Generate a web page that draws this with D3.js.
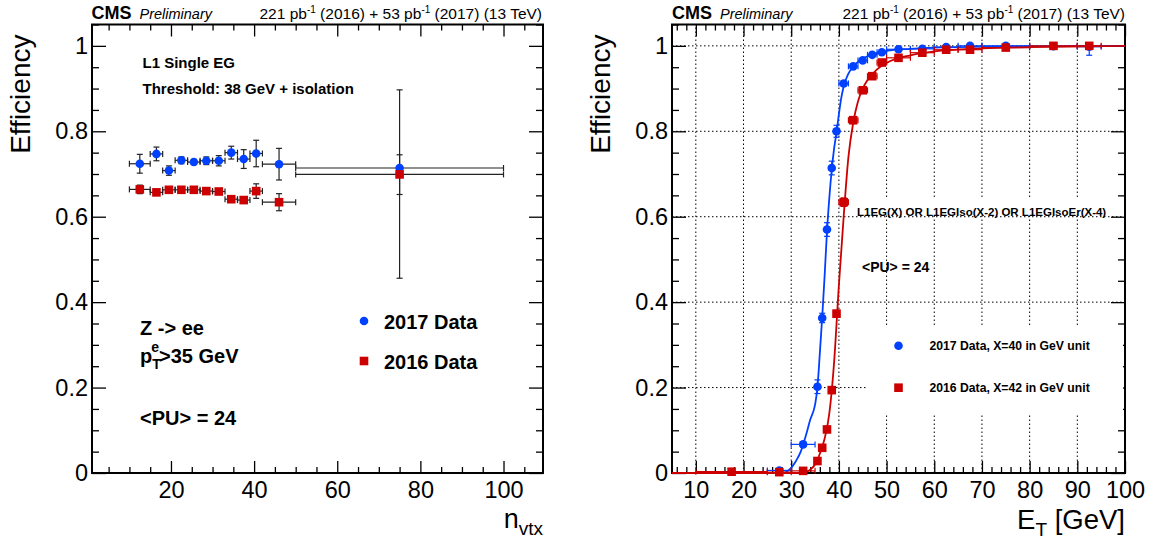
<!DOCTYPE html>
<html><head><meta charset="utf-8">
<script src="https://cdn.jsdelivr.net/npm/d3@7"></script>
<style>body{margin:0;background:#fff}svg{display:block}text{font-family:"Liberation Sans",Arial,Helvetica,sans-serif;fill:#000}</style>
</head><body><svg id="c" width="1157" height="540"></svg>
<script>
// ---------- Left panel data: efficiency vs n_vtx ----------
const nvtxCenter    = [12.5,16.5,19.5,22.5,25.5,28.5,31.5,34.5,37.5,40.5,46,75];
const nvtxHalfWidth = [2.5,1.5,1.5,1.5,1.5,1.5,1.5,1.5,1.5,1.5,4,25];
const eff2017Nvtx   = [0.724,0.747,0.708,0.732,0.728,0.731,0.731,0.750,0.735,0.748,0.723,0.714];
const err2017NvtxLo = [0.022,0.016,0.011,0.008,0.006,0.009,0.012,0.015,0.022,0.031,0.037,0.258];
const err2017NvtxHi = [0.022,0.016,0.011,0.008,0.006,0.009,0.012,0.015,0.022,0.031,0.037,0.183];
const eff2016Nvtx   = [0.664,0.657,0.663,0.663,0.663,0.660,0.659,0.641,0.639,0.660,0.634,0.699];
const err2016NvtxLo = [0.010,0.006,0.005,0.005,0.005,0.005,0.006,0.007,0.008,0.017,0.020,0.047];
const err2016NvtxHi = [0.010,0.006,0.005,0.005,0.005,0.005,0.006,0.007,0.008,0.017,0.020,0.046];

// ---------- Right panel data: efficiency vs E_T ----------
const et2017        = [27.5,32.5,35.5,36.5,37.5,38.5,39.5,41,43,45,47,49,52.5,57.5,62.5,67.5,75,85,92.5];
const etHalf2017    = [2.5,2.5,0.5,0.5,0.5,0.5,0.5,1,1,1,1,1,2.5,2.5,2.5,2.5,5,5,2.5];
const eff2017Et     = [0.006,0.067,0.202,0.363,0.570,0.714,0.800,0.912,0.952,0.966,0.979,0.985,0.992,0.993,0.997,1.0,1.0,0.999,0.998];
const err2017EtLo   = [0.004,0.006,0.016,0.011,0.016,0.016,0.014,0.006,0.005,0.004,0.004,0.004,0.003,0.003,0.003,0.003,0.003,0.004,0.020];
const err2017EtHi   = [0.004,0.006,0.016,0.011,0.016,0.016,0.014,0.006,0.005,0.004,0.004,0.004,0.003,0.003,0.002,0.0,0.0,0.001,0.002];
const et2016        = [17.5,27.5,32.5,35.5,36.5,37.5,38.5,39.5,41,43,45,47,49,52.5,57.5,62.5,67.5,75,85,92.5];
const etHalf2016    = [7.5,2.5,2.5,0.5,0.5,0.5,0.5,0.5,1,1,1,1,1,2.5,2.5,2.5,2.5,5,5,2.5];
const eff2016Et     = [0.003,0.002,0.005,0.028,0.059,0.102,0.194,0.373,0.634,0.826,0.896,0.929,0.961,0.972,0.984,0.991,0.991,0.996,1.0,1.0];
const err2016EtLo   = [0.002,0.002,0.003,0.004,0.005,0.006,0.007,0.008,0.010,0.008,0.006,0.006,0.005,0.004,0.004,0.003,0.004,0.003,0.002,0.003];
const err2016EtHi   = [0.002,0.002,0.003,0.004,0.005,0.006,0.007,0.008,0.010,0.008,0.006,0.006,0.005,0.004,0.004,0.003,0.004,0.003,0.0,0.0];

// fit curves (E_T, efficiency)
const fit2017X = [5,28,29,30,31,32,33,34,35,35.5,36,36.5,37,37.5,38,38.5,39,39.5,40,40.5,41,42,43,45,47,50,55,60,70,80,100];
const fit2017Y = [0,0,0.003,0.012,0.028,0.05,0.085,0.125,0.16,0.2,0.28,0.365,0.46,0.565,0.645,0.71,0.76,0.797,0.84,0.878,0.905,0.935,0.952,0.97,0.98,0.988,0.993,0.996,0.998,0.999,1.0];
const fit2016X = [5,32,33,34,35,36,37,38,39,40,41,42,43,44,45,46,48,50,55,60,70,80,100];
const fit2016Y = [0,0,0.002,0.008,0.02,0.045,0.08,0.14,0.26,0.44,0.6,0.74,0.82,0.87,0.9,0.92,0.945,0.96,0.978,0.987,0.994,0.997,1.0];

// ticks
const yTicks      = [0,0.2,0.4,0.6,0.8,1];
const yTickLabels = ["0","0.2","0.4","0.6","0.8","1"];
const xTicksL     = [20,40,60,80,100];
const xTickLabelsL= ["20","40","60","80","100"];
const xTicksR     = [10,20,30,40,50,60,70,80,90,100];
const xTickLabelsR= ["10","20","30","40","50","60","70","80","90","100"];

const BLUE = "#0040ff", RED = "#cc0000";
const FONT = '"Liberation Sans",Arial,Helvetica,sans-serif';

const svg = d3.select("#c");
const T = 24.5, B = 473;

function panel(x0, x1, domain, majorX, majorLabels, minorStep, grid) {
  const x = d3.scaleLinear().domain(domain).range([x0, x1]);
  const y = d3.scaleLinear().domain([0, 1.05]).range([B, T]);
  const g = svg.append("g");
  const minorX = d3.range(Math.ceil(domain[0]/minorStep)*minorStep, domain[1]+1e-9, minorStep)
                 .filter(v => !majorX.includes(v));
  const minorY = d3.range(0, 1.05+1e-9, 0.05).map(v=>+v.toFixed(2)).filter(v => !yTicks.includes(v));
  if (grid) {
    g.append("g").selectAll("line").data(majorX.filter(v=>v>domain[0] && v<domain[1])).join("line")
      .attr("x1", d=>x(d)).attr("x2", d=>x(d)).attr("y1", B).attr("y2", T)
      .attr("stroke","#000").attr("stroke-width",1).attr("stroke-dasharray","1.5,2.5");
    g.append("g").selectAll("line").data(yTicks.filter(v=>v>0)).join("line")
      .attr("x1", x0).attr("x2", x1).attr("y1", d=>y(d)).attr("y2", d=>y(d))
      .attr("stroke","#000").attr("stroke-width",1).attr("stroke-dasharray","1.5,2.5");
  }
  const ax = (gen, tr) => { const a = g.append("g").attr("transform", tr).call(gen);
    a.select(".domain").remove(); a.selectAll("line").attr("stroke","#000").attr("stroke-width",1.3);
    a.selectAll("text").style("font-family", FONT).style("font-size","23.5px").attr("fill","#000"); return a; };
  const fmtX = d => majorLabels[majorX.indexOf(d)];
  const fmtY = d => yTickLabels[yTicks.indexOf(d)];
  ax(d3.axisBottom(x).tickValues(majorX).tickSize(-12).tickPadding(8).tickFormat(fmtX), `translate(0,${B})`);
  ax(d3.axisBottom(x).tickValues(minorX).tickSize(-6).tickFormat(""), `translate(0,${B})`);
  ax(d3.axisTop(x).tickValues(majorX).tickSize(-12).tickFormat(""), `translate(0,${T})`);
  ax(d3.axisTop(x).tickValues(minorX).tickSize(-6).tickFormat(""), `translate(0,${T})`);
  ax(d3.axisLeft(y).tickValues(yTicks).tickSize(-14).tickPadding(4).tickFormat(fmtY), `translate(${x0},0)`);
  ax(d3.axisLeft(y).tickValues(minorY).tickSize(-7).tickFormat(""), `translate(${x0},0)`);
  ax(d3.axisRight(y).tickValues(yTicks).tickSize(-14).tickFormat(""), `translate(${x1},0)`);
  ax(d3.axisRight(y).tickValues(minorY).tickSize(-7).tickFormat(""), `translate(${x1},0)`);
  g.append("rect").attr("x", x0).attr("y", T).attr("width", x1-x0).attr("height", B-T)
    .attr("fill","none").attr("stroke","#000").attr("stroke-width",2);
  return {x, y, g};
}

function errorBars(p, xs, xh, ys, lo, hi, color) {
  const g = p.g.append("g").attr("stroke", color).attr("stroke-width", 1.2).attr("fill","none");
  const cap = 3;
  xs.forEach((xv, i) => {
    const cx = p.x(xv), cy = p.y(ys[i]);
    const xl = p.x(xv - xh[i]), xr = p.x(xv + xh[i]);
    const yt = p.y(ys[i] + hi[i]), yb = p.y(ys[i] - lo[i]);
    g.append("line").attr("x1", xl).attr("x2", xr).attr("y1", cy).attr("y2", cy);
    g.append("line").attr("x1", xl).attr("x2", xl).attr("y1", cy-cap).attr("y2", cy+cap);
    g.append("line").attr("x1", xr).attr("x2", xr).attr("y1", cy-cap).attr("y2", cy+cap);
    if (hi[i] > 0 || lo[i] > 0) {
      g.append("line").attr("x1", cx).attr("x2", cx).attr("y1", yt).attr("y2", yb);
      if (hi[i] > 0.004) g.append("line").attr("x1", cx-cap).attr("x2", cx+cap).attr("y1", yt).attr("y2", yt);
      if (lo[i] > 0.004) g.append("line").attr("x1", cx-cap).attr("x2", cx+cap).attr("y1", yb).attr("y2", yb);
    }
  });
}
function circles(p, xs, ys, color) {
  p.g.append("g").selectAll("circle").data(xs).join("circle")
    .attr("cx", (d)=>p.x(d)).attr("cy", (d,i)=>p.y(ys[i])).attr("r", 4.3).attr("fill", color);
}
function squares(p, xs, ys, color) {
  const s = 8.6;
  p.g.append("g").selectAll("rect").data(xs).join("rect")
    .attr("x", d=>p.x(d)-s/2).attr("y", (d,i)=>p.y(ys[i])-s/2).attr("width", s).attr("height", s).attr("fill", color);
}
function header(x0, x1) {
  const t = svg.append("text").attr("x", x0).attr("y", 18.5).style("font-size","18px");
  t.append("tspan").style("font-weight","bold").text("CMS");
  t.append("tspan").attr("dx", 8).style("font-style","italic").style("font-size","14.5px").text("Preliminary");
  const r = svg.append("text").attr("x", x1).attr("y", 18.5).attr("text-anchor","end").style("font-size","15.5px");
  r.append("tspan").text("221 pb");
  r.append("tspan").attr("dy",-6).style("font-size","10px").text("-1");
  r.append("tspan").attr("dy",6).text(" (2016) + 53 pb");
  r.append("tspan").attr("dy",-6).style("font-size","10px").text("-1");
  r.append("tspan").attr("dy",6).text(" (2017) (13 TeV)");
}
function yTitle(cx) {
  svg.append("text").attr("transform", `translate(${cx},${T+10}) rotate(-90)`).attr("text-anchor","end")
    .style("font-size","28px").text("Efficiency");
}

// ---------- Left panel ----------
const L = panel(92, 543, [1, 109.5], xTicksL, xTickLabelsL, 5, false);
errorBars(L, nvtxCenter, nvtxHalfWidth, eff2017Nvtx, err2017NvtxLo, err2017NvtxHi, "#222");
errorBars(L, nvtxCenter, nvtxHalfWidth, eff2016Nvtx, err2016NvtxLo, err2016NvtxHi, "#222");
circles(L, nvtxCenter, eff2017Nvtx, BLUE);
squares(L, nvtxCenter, eff2016Nvtx, RED);
header(91.5, 542);
yTitle(30);
{
  const t = svg.append("text").attr("x", 543).attr("y", 528).attr("text-anchor","end").style("font-size","27px");
  t.append("tspan").text("n");
  t.append("tspan").attr("dy", 7).style("font-size","19px").text("vtx");
}
const lt = (x, y, s, txt) => svg.append("text").attr("x", x).attr("y", y).style("font-size", s).style("font-weight","bold").text(txt);
lt(142.5, 67.7, "15px", "L1 Single EG");
lt(142.5, 94.3, "15px", "Threshold: 38 GeV + isolation");
lt(140, 335, "20px", "Z -> ee");
{
  const t = svg.append("text").attr("x", 140).attr("y", 363).style("font-size","20px").style("font-weight","bold");
  t.append("tspan").text("p");
  t.append("tspan").attr("dy", 6).style("font-size","14px").text("T");
  t.append("tspan").attr("dx", -8.5).attr("dy", -17).style("font-size","14px").text("e");
  t.append("tspan").attr("dy", 11).text(">35 GeV");
}
lt(140, 425, "20px", "<PU> = 24");
svg.append("circle").attr("cx", 364).attr("cy", 321).attr("r", 4.3).attr("fill", BLUE);
svg.append("rect").attr("x", 364-4.3).attr("y", 361-4.3).attr("width", 8.6).attr("height", 8.6).attr("fill", RED);
lt(384, 329, "20px", "2017 Data");
lt(384, 369, "20px", "2016 Data");

// ---------- Right panel ----------
const R = panel(672, 1125, [5, 100], xTicksR, xTickLabelsR, 2, true);
// text/legend boxes hide grid
R.g.append("rect").attr("x", 852).attr("y", 199).attr("width", 258).attr("height", 15).attr("fill","#fff");
R.g.append("rect").attr("x", 868).attr("y", 325).attr("width", 255).attr("height", 88).attr("fill","#fff");
const line = (xs, ys) => d3.line().x((d)=>R.x(d)).y((d,i)=>R.y(ys[i])).curve(d3.curveMonotoneX)(xs);
R.g.append("path").attr("d", line(fit2017X, fit2017Y)).attr("fill","none").attr("stroke", BLUE).attr("stroke-width", 1.8);
errorBars(R, et2017, etHalf2017, eff2017Et, err2017EtLo, err2017EtHi, BLUE);
circles(R, et2017, eff2017Et, BLUE);
R.g.append("path").attr("d", line(fit2016X, fit2016Y)).attr("fill","none").attr("stroke", RED).attr("stroke-width", 1.8);
errorBars(R, et2016, etHalf2016, eff2016Et, err2016EtLo, err2016EtHi, RED);
squares(R, et2016, eff2016Et, RED);
header(672, 1125);
yTitle(610);
{
  const t = svg.append("text").attr("x", 1125).attr("y", 529).attr("text-anchor","end").style("font-size","27.5px");
  t.append("tspan").text("E");
  t.append("tspan").attr("dy", 7).style("font-size","19px").text("T");
  t.append("tspan").attr("dy", -7).text(" [GeV]");
}
lt(857, 215.5, "11.5px", "L1EG(X) OR L1EGIso(X-2) OR L1EGIsoEr(X-4)");
lt(862, 271.5, "14px", "<PU> = 24");
svg.append("circle").attr("cx", 898.5).attr("cy", 345.7).attr("r", 4.3).attr("fill", BLUE);
svg.append("rect").attr("x", 898.5-4.3).attr("y", 387.7-4.3).attr("width", 8.6).attr("height", 8.6).attr("fill", RED);
lt(929.5, 350, "12.2px", "2017 Data, X=40 in GeV unit");
lt(929.5, 392, "12.2px", "2016 Data, X=42 in GeV unit");
</script></body></html>
